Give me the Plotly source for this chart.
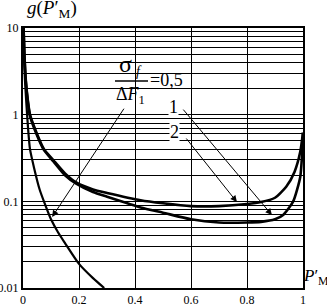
import numpy as np
import plotly.graph_objects as go

# Curve for sigma_f / dF1 = 0,5
x_s = [0.0, 0.003, 0.007, 0.012, 0.018, 0.025, 0.04, 0.06, 0.08, 0.1, 0.125, 0.15, 0.2, 0.25, 0.29]
y_s = [10, 5.0, 2.5, 1.35, 0.7, 0.4, 0.24, 0.135, 0.09, 0.062, 0.044, 0.033, 0.019, 0.013, 0.01]

# Curve 2 (upper U)
x_2 = [0.002, 0.005, 0.01, 0.018, 0.025, 0.05, 0.075, 0.108, 0.15, 0.19, 0.25, 0.3, 0.42, 0.5, 0.6, 0.7, 0.8, 0.85, 0.9, 0.94, 0.97, 0.99, 1.0]
y_2 = [10, 5.0, 2.5, 1.4, 1.0, 0.6, 0.4, 0.3, 0.21, 0.165, 0.137, 0.125, 0.103, 0.095, 0.088, 0.088, 0.093, 0.098, 0.11, 0.147, 0.22, 0.37, 0.62]

# Curve 1 (lower U)
x_1 = [0.002, 0.005, 0.01, 0.018, 0.025, 0.05, 0.075, 0.108, 0.15, 0.19, 0.25, 0.3, 0.42, 0.5, 0.6, 0.7, 0.8, 0.85, 0.9, 0.93, 0.965, 0.99, 0.997, 1.0]
y_1 = [10, 5.0, 2.4, 1.35, 0.97, 0.58, 0.39, 0.29, 0.2, 0.16, 0.128, 0.113, 0.085, 0.074, 0.062, 0.057, 0.057, 0.058, 0.062, 0.07, 0.1, 0.19, 0.36, 0.62]

x_ticks = [0, 0.2, 0.4, 0.6, 0.8, 1.0]
x_ticktext = ["0", "0.2", "0.4", "0.6", "0.8", "1"]
y_decades = [0.01, 0.1, 1, 10]
y_decade_text = ["0.01", "0.1", "1", "10"]

# arrows: (head x, head y, tail x, tail y)
arrow_sigma = (0.104, 0.066, 0.364, 1.22)
arrow_1 = (0.889, 0.0695, 0.568, 1.19)
arrow_2 = (0.764, 0.098, 0.579, 0.552)

yvals, ytext = [], []
for d, t in zip(y_decades[:-1], y_decade_text[:-1]):
    for k in range(1, 10):
        yvals.append(d * k)
        ytext.append(t if k == 1 else "")
yvals.append(10)
ytext.append("10")

fig = go.Figure()
for xs, ys, w in [(x_s, y_s, 2.2), (x_2, y_2, 2.6), (x_1, y_1, 2.6)]:
    fig.add_trace(go.Scatter(x=xs, y=ys, mode="lines",
                             line=dict(color="black", width=w, shape="spline", smoothing=0.6),
                             showlegend=False, hoverinfo="skip"))

font = "Liberation Serif"
fig.update_layout(
    width=327, height=304,
    margin=dict(l=23, r=24, t=28, b=16, autoexpand=False),
    paper_bgcolor="white", plot_bgcolor="white",
    font=dict(family=font, size=12, color="black"),
    xaxis=dict(range=[0, 1], tickvals=x_ticks, ticktext=x_ticktext,
               showgrid=True, gridcolor="black", gridwidth=1, automargin=False,
               showline=True, linecolor="black", linewidth=2, mirror=True,
               zeroline=False, ticks="", tickfont=dict(size=12, family=font)),
    yaxis=dict(type="log", range=[-2, 1], tickvals=yvals, ticktext=ytext,
               showgrid=True, gridcolor="black", gridwidth=1, automargin=False,
               showline=True, linecolor="black", linewidth=2, mirror=True,
               zeroline=False, ticks="", tickfont=dict(size=12, family=font)),
)

def px(xp, yp):
    return (xp - 23) / 280, (288 - yp) / 260

def label(xp, yp, text, size, **kw):
    x, y = px(xp, yp)
    d = dict(xref="paper", yref="paper", x=x, y=y, text=text, showarrow=False,
             xanchor="center", yanchor="middle", font=dict(size=size, family=font))
    d.update(kw)
    return d

# white background behind the parameter label (between gridlines and traces)
bx0, by0 = px(113, 53)
bx1, by1 = px(185, 111)
fig.add_shape(type="rect", xref="paper", yref="paper", x0=bx0, x1=bx1, y0=by1, y1=by0,
              fillcolor="white", line=dict(width=0), layer="between")

ann = []
for (hx, hy, tx, ty) in [arrow_sigma, arrow_1, arrow_2]:
    ann.append(dict(xref="x", yref="y", axref="x", ayref="y",
                    x=hx, y=np.log10(hy), ax=tx, ay=np.log10(ty),
                    text="", showarrow=True, arrowhead=2, arrowsize=1.3,
                    arrowwidth=1, arrowcolor="black"))
# fraction label
ann.append(label(125, 64, "σ", 24))
ann.append(label(139, 71, "<i>f</i>", 14))
ann.append(label(130, 95, "Δ<i>F</i><sub>1</sub>", 18))
ann.append(label(166, 80, "=0,5", 18))
ann.append(label(173, 107, "1", 18, bgcolor="white", borderpad=0))
ann.append(label(174, 132, "2", 18, bgcolor="white", borderpad=0))
# titles
ann.append(label(52, 9, "<i>g</i>(<i>P</i>′<sub>М</sub>)", 19))
ann.append(label(316, 277, "<i>P</i>′<sub>М</sub>", 17))
fig.update_layout(annotations=ann)

fbx0, fby = px(115, 81)
fbx1, _ = px(148, 81)
fig.add_shape(type="line", xref="paper", yref="paper", x0=fbx0, x1=fbx1, y0=fby, y1=fby,
              line=dict(color="black", width=1.5), layer="above")

fig.write_html("out.html", config={"displayModeBar": False},
               post_script="document.body.style.margin='0';document.body.style.overflow='hidden';")
